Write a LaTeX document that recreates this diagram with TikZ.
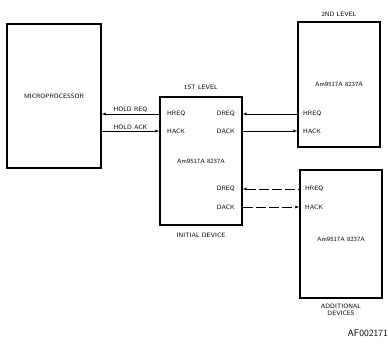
\documentclass[tikz,border=0pt]{standalone}
\usepackage{tikz}
\usetikzlibrary{positioning}

\begin{document}
\begin{tikzpicture}[x=1pt, y=-1pt, >=latex,
    font=\fontsize{6.3}{7.5}\selectfont\sffamily,
    chip/.style={rectangle, draw, line width=1.3pt, minimum width=82pt,
        minimum height=128pt, inner sep=0pt},
    pin/.style={inner sep=0pt},
    caption/.style={inner sep=0pt, align=center}]
    \useasboundingbox (0,0) rectangle (388,344);
    % Microprocessor
    \node[chip, minimum width=94pt, minimum height=144pt] (CPU) at (54,96) {MICROPROCESSOR};
    % Initial device
    \node[chip] (Level1) at (201,161) {Am9517A 8237A};
    \node[caption, above=7pt of Level1] (Level1-title) {1ST LEVEL};
    \node[caption, below=7pt of Level1] (Level1-note) {INITIAL DEVICE};
    \foreach \name/\i/\y in {HREQ/1/114,HACK/2/131} {
        \node[pin, anchor=west] (L1in-\i) at (167,\y) {\name};
    }
    \foreach \name/\i/\y in {DREQ/1/114,DACK/2/131,DREQ/3/189,DACK/4/207} {
        \node[pin, anchor=east] (L1out-\i) at (235,\y) {\name};
    }
    % Second level
    \node[chip, minimum height=125pt] (Level2) at (339,84.5) {Am9517A 8237A};
    \node[caption, above=5pt of Level2] (Level2-title) {2ND LEVEL};
    \foreach \name/\i/\y in {HREQ/1/114,HACK/2/131} {
        \node[pin, anchor=west] (L2in-\i) at (303,\y) {\name};
    }
    % Additional devices
    \node[chip] (Extra) at (341,234) {};
    \node[caption] (Extra-chip) at (341,239) {Am9517A 8237A};
    \node[caption, below=5pt of Extra] (Extra-title) {ADDITIONAL\\DEVICES};
    \foreach \name/\i/\y in {HREQ/1/189,HACK/2/207} {
        \node[pin, anchor=west] (L3in-\i) at (305,\y) {\name};
    }
    \node[caption, anchor=east, font=\fontsize{9.5}{11}\selectfont\sffamily] (Fig) at (388,333) {AF002171};
    % Arrows
    \draw[<-] (CPU.east |- L1in-1) -- node[above=1.5pt, inner sep=0pt] (HoldReq) {HOLD REQ} (Level1.west |- L1in-1);
    \draw[->] (CPU.east |- L1in-2) -- node[above=1.5pt, inner sep=0pt] (HoldAck) {HOLD ACK} (Level1.west |- L1in-2);
    \draw[<-] (Level1.east |- L1out-1) -- (Level2.west |- L1out-1);
    \draw[->] (Level1.east |- L1out-2) -- (Level2.west |- L1out-2);
    \draw[<-, dash pattern=on 10pt off 3pt] (Level1.east |- L1out-3) -- (Extra.west |- L1out-3);
    \draw[->, dash pattern=on 10pt off 3pt] (Level1.east |- L1out-4) -- (Extra.west |- L1out-4);
\end{tikzpicture}
\end{document}
